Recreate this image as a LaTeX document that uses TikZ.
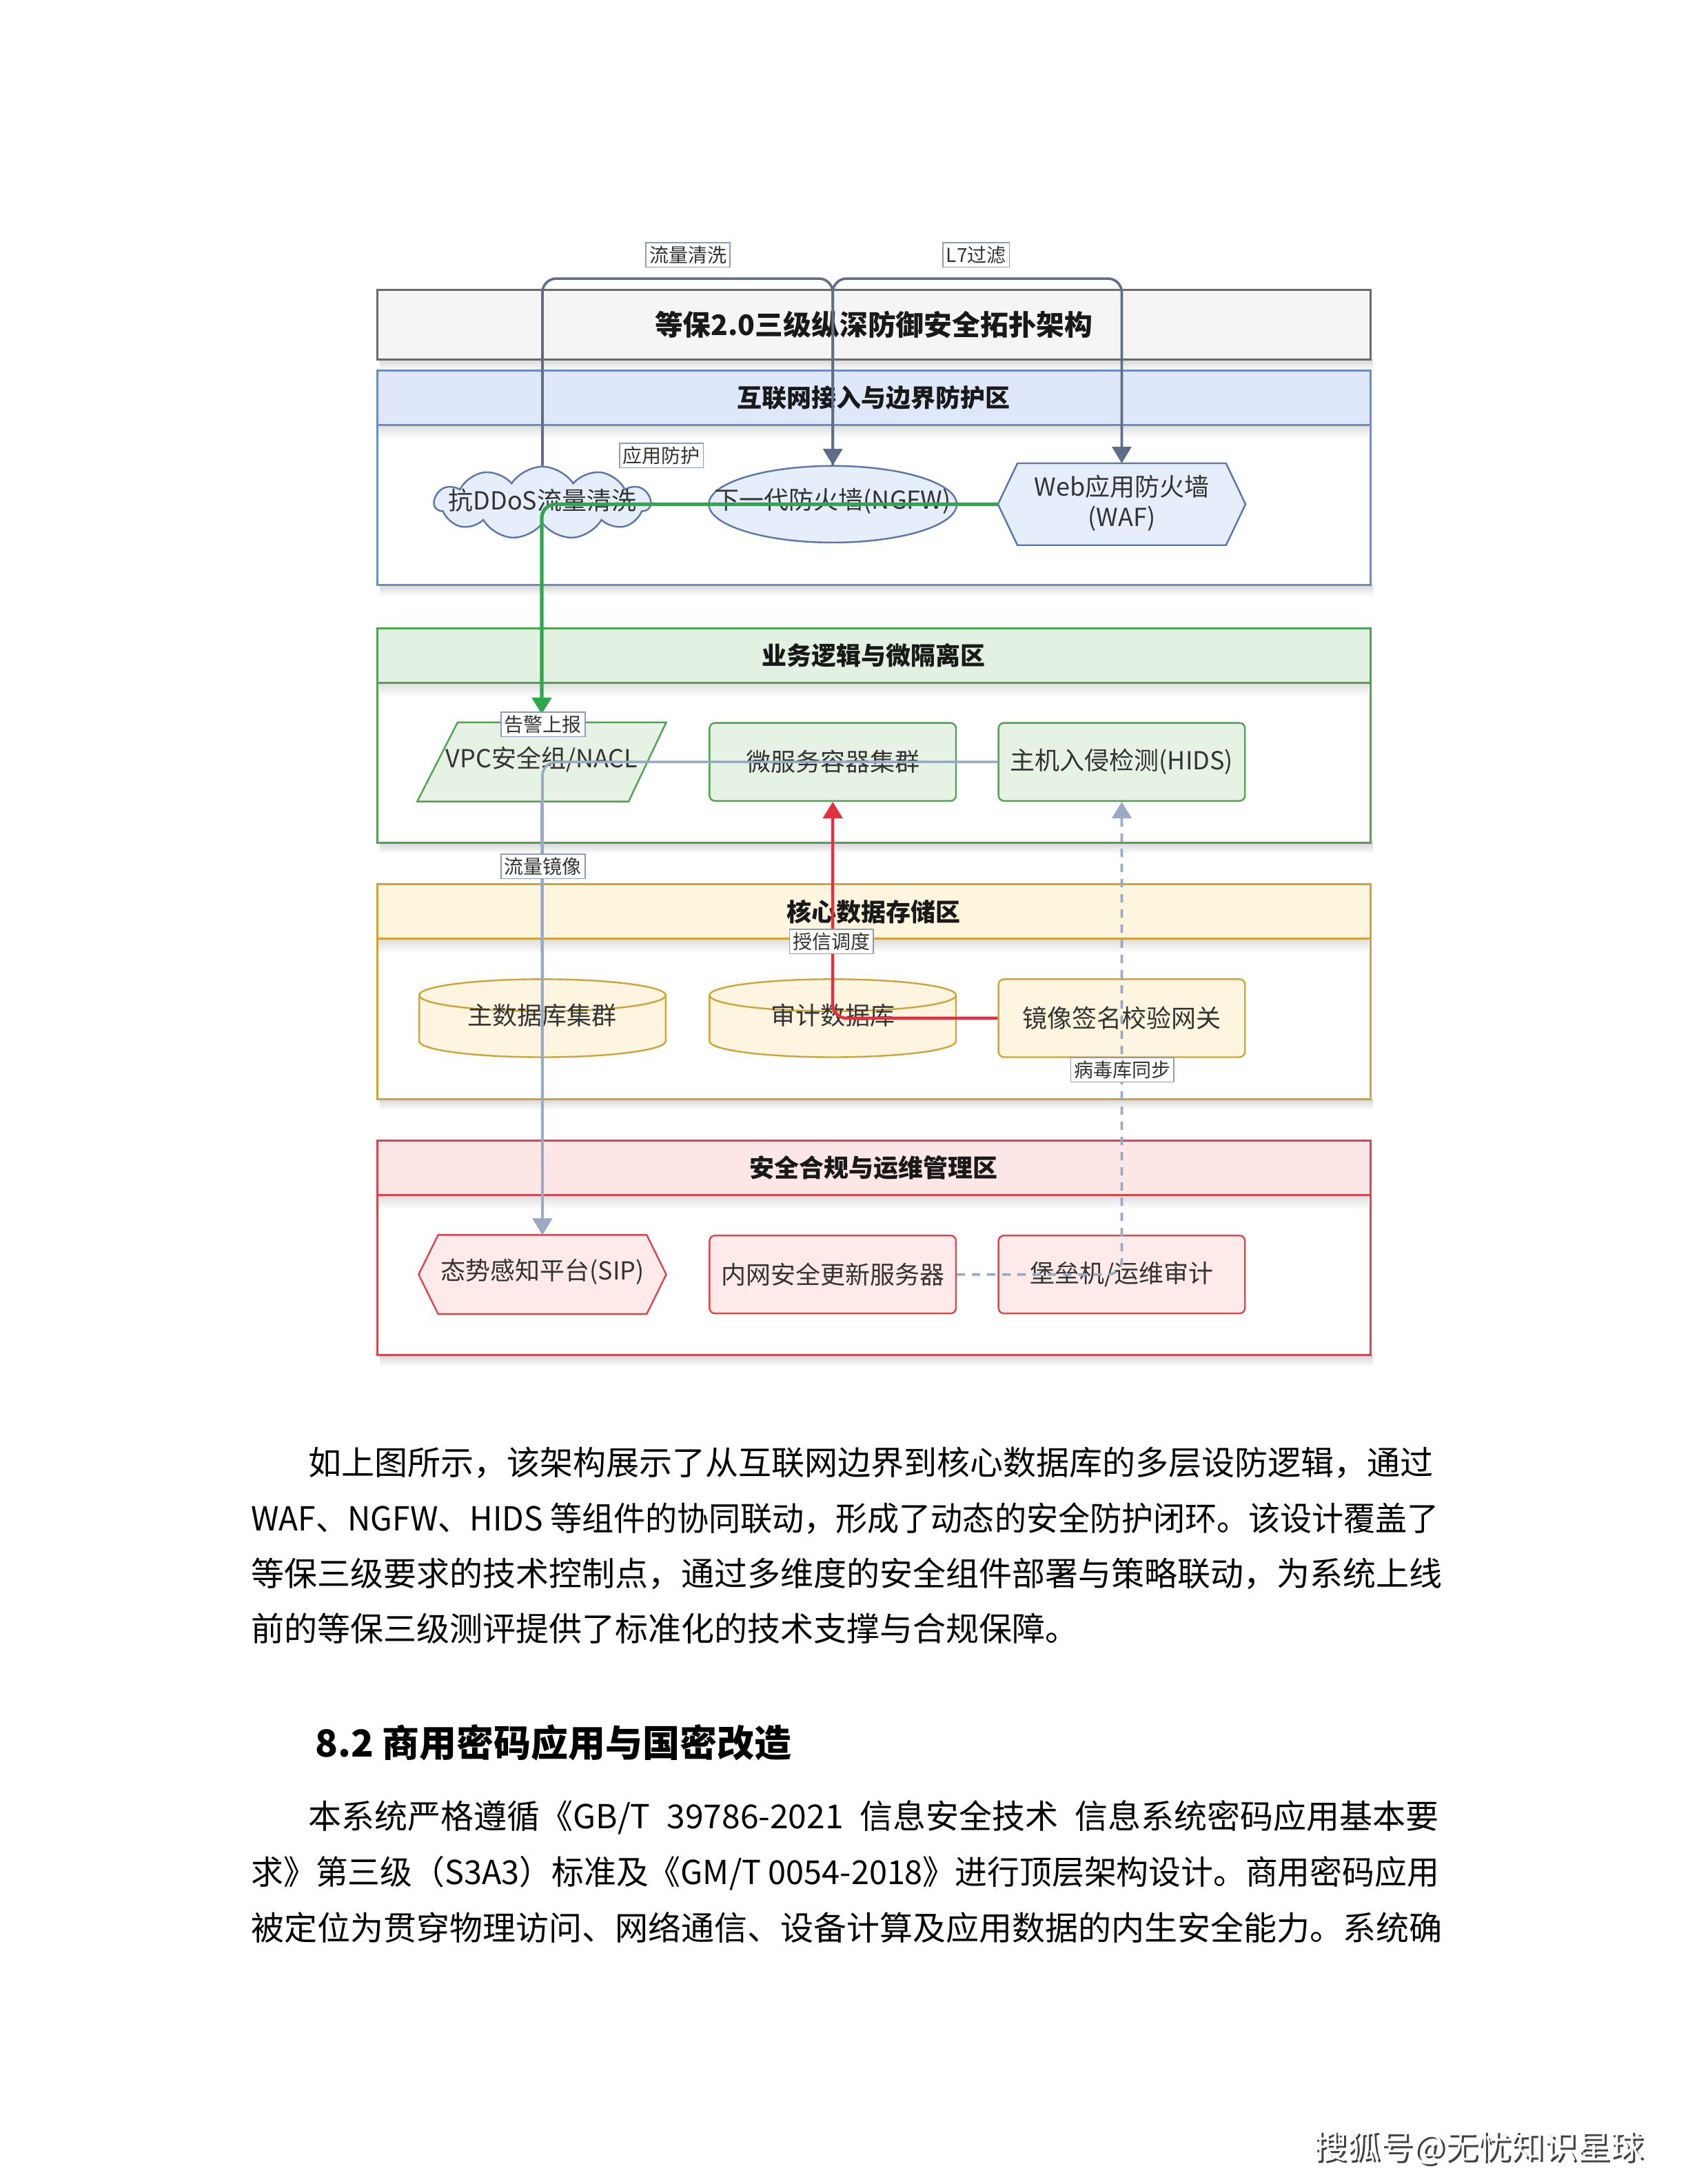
\documentclass[tikz,border=0pt]{standalone}
\usepackage{fontspec}
\usepackage{graphicx}
\setmainfont{Noto Sans CJK SC}
\usetikzlibrary{arrows.meta,shapes.symbols,shapes.geometric,calc}
\XeTeXlinebreaklocale "zh"
\XeTeXlinebreakskip=0pt plus 1pt
\newlength\pxl
\setlength\pxl{0.505pt}
\definecolor{bluebd}{HTML}{6C8EBF}
\definecolor{bluehd}{HTML}{DFE8FB}
\definecolor{bluend}{HTML}{E6EEFC}
\definecolor{bluenbd}{HTML}{5A75AB}
\definecolor{greenbd}{HTML}{52A052}
\definecolor{greenhd}{HTML}{E3F1E2}
\definecolor{greennd}{HTML}{E5F2E4}
\definecolor{ylwbd}{HTML}{CDA435}
\definecolor{ylwhd}{HTML}{FDF5DE}
\definecolor{ylwnd}{HTML}{FDF5E0}
\definecolor{redbd}{HTML}{D9454F}
\definecolor{redhd}{HTML}{FDE7E6}
\definecolor{rednd}{HTML}{FDEAE9}
\definecolor{titlefill}{HTML}{F5F5F5}
\definecolor{titlebd}{HTML}{6A6A6A}
\definecolor{flowdark}{HTML}{5E6E88}
\definecolor{flowlight}{HTML}{9AAAC3}
\definecolor{flowgreen}{HTML}{2EA84A}
\definecolor{flowred}{HTML}{E2303F}
\definecolor{lblbd}{HTML}{8A9CBB}
\definecolor{txt}{HTML}{333333}
% zone: #1 name, #2 top, #3 bottom, #4 border, #5 header fill, #6 title
\newcommand\zonearea[6]{%
  \shade[top color=black!16, bottom color=white] (273,#3) rectangle (986,#3+8);
  \node[draw=#4, fill=white, line width=0.75pt, minimum width=713*\pxl,
        minimum height={(#3-#2)*\pxl}, inner sep=0pt] (#1box) at (627.5,{(#2+#3)/2}) {};
  \shade[top color=black!13, bottom color=white] (272,#2+39.5) rectangle (983,#2+49);
  \node[draw=#4, fill=#5, line width=0.75pt, minimum width=713*\pxl,
        minimum height=39*\pxl, inner sep=0pt, ztitle] (#1) at (627.5,#2+19.5) {#6};
}
% cylinder: #1 name, #2 cx, #3 cy, #4 text
\newcommand\dbcyl[4]{%
  \node[slot] (#1) at (#2,#3) {};
  \filldraw[draw=ylwbd, fill=ylwnd, nodeline]
    (#2-88.5,#3-16.5) -- (#2-88.5,#3+16.5)
    arc[start angle=180, end angle=0, x radius=88.5, y radius=11.5]
    -- (#2+88.5,#3-16.5)
    arc[start angle=0, end angle=-180, x radius=88.5, y radius=11.5] -- cycle;
  \draw[ylwbd, nodeline] (#2-88.5,#3-16.5)
    arc[start angle=180, end angle=0, x radius=88.5, y radius=11.5];
  \node[ntext] (#1t) at (#2,#3-2) {#4};
}
\newcommand\hexpath[1]{(#1.west) -- ([xshift=14*\pxl]#1.north west) -- ([xshift=-14*\pxl]#1.north east) -- (#1.east) -- ([xshift=-14*\pxl]#1.south east) -- ([xshift=14*\pxl]#1.south west) -- cycle}
\begin{document}
\begin{tikzpicture}[x=0.505pt, y=-0.505pt,
  ntext/.style={font=\fontsize{9}{11}\selectfont, text=txt, align=center, inner sep=0pt},
  slot/.style={minimum width=177*\pxl, minimum height=56*\pxl, inner sep=0pt,
               font=\fontsize{9}{11}\selectfont, text=txt, align=center},
  nodeline/.style={line width=0.6pt},
  ztitle/.style={font=\fontsize{9}{11}\selectfont\bfseries, text=black!90},
  elabel/.style={font=\fontsize{7}{8}\selectfont, fill=white, draw=lblbd,
                 line width=0.4pt, inner sep=1.2pt, text=txt},
  arr/.style={-{Triangle[width=7pt,length=6pt]}},
  darkflow/.style={arr, draw=flowdark, line width=0.9pt, rounded corners=5pt},
  lightflow/.style={arr, draw=flowlight, line width=0.9pt, rounded corners=5pt},
  greenflow/.style={arr, draw=flowgreen, line width=1.3pt, rounded corners=5pt},
  redflow/.style={arr, draw=flowred, line width=1.1pt, rounded corners=5pt},
  para/.style={font=\fontsize{12}{14}\selectfont, text=black, inner sep=0pt, anchor=west}
]
\useasboundingbox (0,0) rectangle (1212,1568);
\fill[white] (0,0) rectangle (1212,1568);

% ---------- title ----------
\shade[top color=black!16, bottom color=white] (273,258) rectangle (986,266);
\node[draw=titlebd, fill=titlefill, line width=0.8pt, minimum width=713*\pxl,
      minimum height=50*\pxl, inner sep=0pt,
      font=\fontsize{10.2}{12}\selectfont\bfseries, text=black!90] (title) at (627.5,233)
      {等保2.0三级纵深防御安全拓扑架构};

% ---------- zones ----------
\zonearea{zA}{266}{420}{bluebd}{bluehd}{互联网接入与边界防护区}
\zonearea{zB}{451}{605}{greenbd}{greenhd}{业务逻辑与微隔离区}
\zonearea{zC}{635}{789}{ylwbd}{ylwhd}{核心数据存储区}
\zonearea{zD}{819}{973}{redbd}{redhd}{安全合规与运维管理区}

% ---------- zone A nodes ----------
\node[cloud, cloud puffs=11, cloud puff arc=115, aspect=2.9, cloud ignores aspect,
      draw=bluenbd, fill=bluend, nodeline, minimum width=155*\pxl,
      minimum height=52*\pxl, inner sep=0pt] (ddos) at (389.5,361) {};
\node[ntext] (ddost) at (389.5,359) {抗DDoS流量清洗};

\node[minimum width=178*\pxl, minimum height=55*\pxl, inner sep=0pt] (ngfw) at (598,362) {};
\filldraw[draw=bluenbd, fill=bluend, nodeline] (ngfw.center) ellipse[x radius=89, y radius=27.5];
\node[ntext] (ngfwt) at (598,360) {下一代防火墙(NGFW)};

\node[minimum width=177*\pxl, minimum height=58*\pxl, inner sep=0pt] (waf) at (805.5,362) {};
\filldraw[draw=bluenbd, fill=bluend, nodeline] \hexpath{waf};
\node[ntext, font=\fontsize{9}{11}\selectfont] (waft) at (805.5,361) {Web应用防火墙\\(WAF)};

% ---------- zone B nodes ----------
\node[minimum width=178*\pxl, minimum height=56*\pxl, inner sep=0pt] (vpc) at (389,547) {};
\filldraw[draw=greenbd, fill=greennd, nodeline] (vpc.south west) -- ([xshift=29*\pxl]vpc.north west)
   -- (vpc.north east) -- ([xshift=-27*\pxl]vpc.south east) -- cycle;
\node[ntext] (vpct) at (389,545) {VPC安全组/NACL};

\node[slot, draw=greenbd, fill=greennd, nodeline, rounded corners=2pt] (ms) at (598,547) {微服务容器集群};
\node[slot, draw=greenbd, fill=greennd, nodeline, rounded corners=2pt] (hids) at (805.5,547) {主机入侵检测(HIDS)};

% ---------- zone C nodes ----------
\dbcyl{db1}{389.5}{731}{主数据库集群}
\dbcyl{db2}{598}{731}{审计数据库}
\node[slot, draw=ylwbd, fill=ylwnd, nodeline, rounded corners=2pt] (gw) at (805.5,731) {镜像签名校验网关};

% ---------- zone D nodes ----------
\node[minimum width=177*\pxl, minimum height=56*\pxl, inner sep=0pt] (sip) at (389.5,915) {};
\filldraw[draw=redbd, fill=rednd, nodeline] \hexpath{sip};
\node[ntext] (sipt) at (389.5,913) {态势感知平台(SIP)};
\node[slot, draw=redbd, fill=rednd, nodeline, rounded corners=2pt] (upd) at (598,915) {内网安全更新服务器};
\node[slot, draw=redbd, fill=rednd, nodeline, rounded corners=2pt] (bast) at (805.5,915) {堡垒机/运维审计};

% ---------- connectors ----------
\coordinate (m12) at (494,200);
\coordinate (m23) at (701,200);
\draw[darkflow] (ddos.north) |- (m12) -| (ngfw.north);
\draw[darkflow] (ngfw.north) |- (m23) -| (waf.north);
\draw[greenflow, shorten >=3pt] (waf.west) -| (vpc.north);
\draw[lightflow] (hids.west) -| (sip.north);
\draw[lightflow] (vpc.south) -- (sip.north);
\draw[redflow] (gw.west) -| (ms.south);
\draw[lightflow, dash pattern=on 3pt off 2.5pt] (upd.east) -| (hids.south);

% ---------- connector labels ----------
\node[elabel] (l1) at (494,183) {流量清洗};
\node[elabel] (l2) at (701,183) {L7过滤};
\node[elabel] (l3) at (475,327) {应用防护};
\node[elabel] (l4) at (390,520) {告警上报};
\node[elabel] (l5) at (390,622) {流量镜像};
\node[elabel] (l6) at (597,676) {授信调度};
\node[elabel] (l7) at (806,768) {病毒库同步};

% ---------- body text ----------
\node[para] (p1a) at (221,1050) {\makebox[812\pxl][s]{如上图所示，该架构展示了从互联网边界到核心数据库的多层设防逻辑，通过}};
\node[para] (p1b) at (180,1090) {\resizebox{853\pxl}{\height}{WAF、NGFW、HIDS 等组件的协同联动，形成了动态的安全防护闭环。该设计覆盖了}};
\node[para] (p1c) at (180,1130) {\makebox[853\pxl][s]{等保三级要求的技术控制点，通过多维度的安全组件部署与策略联动，为系统上线}};
\node[para] (p1d) at (180,1169) {前的等保三级测评提供了标准化的技术支撑与合规保障。};

\node[para, font=\fontsize{13.5}{16}\selectfont\bfseries] (h82) at (226,1251) {8.2 商用密码应用与国密改造};

\node[para] (p2a) at (221,1305) {\makebox[812\pxl][s]{本系统严格遵循《GB/T 39786-2021 信息安全技术 信息系统密码应用基本要}};
\node[para] (p2b) at (180,1345) {\resizebox{853\pxl}{\height}{求》第三级（S3A3）标准及《GM/T 0054-2018》进行顶层架构设计。商用密码应用}};
\node[para] (p2c) at (180,1384) {\makebox[853\pxl][s]{被定位为贯穿物理访问、网络通信、设备计算及应用数据的内生安全能力。系统确}};

% ---------- watermark ----------
\node[font=\fontsize{12}{14}\selectfont, text=black!75, inner sep=0pt] (wms) at (1063.5,1543.5) {搜狐号@无忧知识星球};
\node[font=\fontsize{12}{14}\selectfont, text=white, inner sep=0pt] (wm) at (1062,1542) {搜狐号@无忧知识星球};
\end{tikzpicture}
\end{document}
